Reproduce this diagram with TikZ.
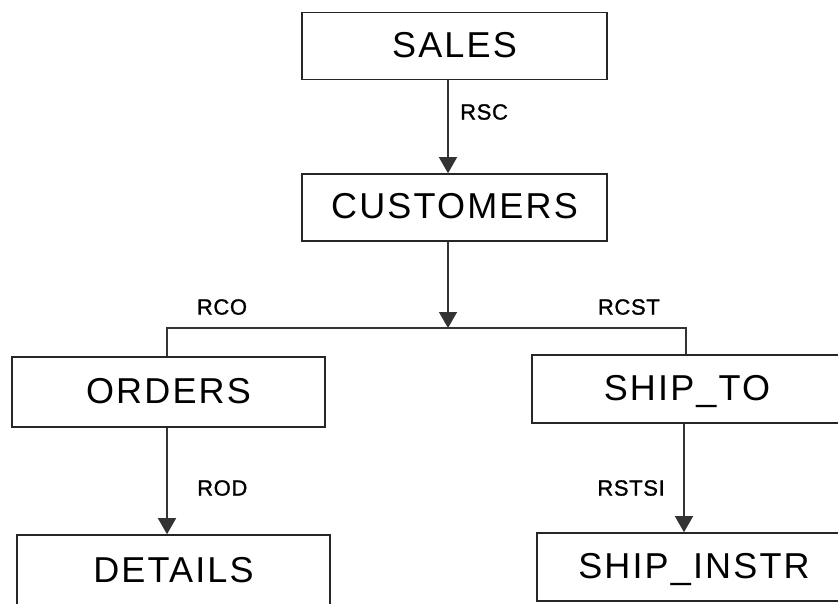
\documentclass[tikz,border=0pt]{standalone}
\usepackage{fontspec}
\setmainfont{Liberation Sans}
\newfontfamily\boxfont[LetterSpace=6]{Liberation Sans}
\newfontfamily\lblfont[LetterSpace=3,FakeBold=1.2]{Liberation Sans}
\usetikzlibrary{arrows.meta}
\begin{document}
\begin{tikzpicture}[x=1pt,y=-1pt,
  entity/.style={draw=black!85,line width=1.6pt,minimum height=67pt,inner sep=0pt,
    text height=26pt,text depth=4pt,
    font=\boxfont\fontsize{36}{40}\selectfont},
  link/.style={draw=black!80,line width=1.4pt},
  arr/.style={link,-{Triangle[width=18pt,length=16pt]}},
  lbl/.style={font=\lblfont\fontsize{22}{24}\selectfont,inner sep=0pt}]
\useasboundingbox (0,0) rectangle (838,603);
\clip (0,0) rectangle (838,603);
\node[entity,minimum width=305pt] (sales) at (454.5,46) {SALES};
\node[entity,minimum width=305pt] (cust) at (454.5,207.5) {CUSTOMERS};
\node[entity,minimum width=313pt,minimum height=70pt] (orders) at (168.5,392) {ORDERS};
\node[entity,minimum width=313pt,minimum height=72pt] (details) at (173.5,571) {DETAILS};
\node[entity,minimum width=310pt,minimum height=68pt] (shipto) at (687,389) {SHIP\_TO};
\node[entity,minimum width=314pt,minimum height=68pt] (shipinstr) at (694,567) {SHIP\_INSTR};
\coordinate (j) at (448,328);
\coordinate (oj) at (167,328);
\coordinate (sj) at (686,328);
\draw[arr] (sales.south -| j) -- (cust.north -| j);
\draw[arr] (cust.south -| j) -- (j);
\draw[link] (orders.north -| oj) -- (oj) -- (sj) -- (shipto.north -| sj);
\draw[arr] (orders.south -| oj) -- (details.north -| oj);
\draw[arr] (shipto.south -| 684,0) -- (shipinstr.north -| 684,0);
\node[lbl,anchor=west] (rsc) at (460,112) {RSC};
\node[lbl,anchor=center] (rco) at (222,307) {RCO};
\node[lbl,anchor=east] (rcst) at (660,307) {RCST};
\node[lbl,anchor=west] (rod) at (197,488) {ROD};
\node[lbl,anchor=east] (rstsi) at (665,488) {RSTSI};
\end{tikzpicture}
\end{document}
